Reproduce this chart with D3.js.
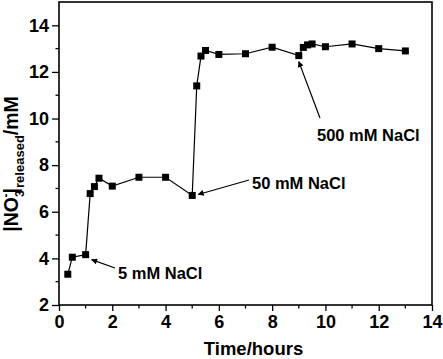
<!DOCTYPE html>
<html>
<head>
<meta charset="utf-8">
<script src="https://cdn.jsdelivr.net/npm/d3@7"></script>
<style>
  body { margin: 0; background: #fff; }
  svg { display: block; font-family: "Liberation Sans", Arial, sans-serif; }
</style>
</head>
<body>
<svg></svg>
<script>
// dados
const timeHours = [0.33, 0.5, 1.0, 1.17, 1.33, 1.5, 2.0, 3.0, 4.0, 5.0, 5.17, 5.33, 5.5, 6.0, 7.0, 8.0, 9.0, 9.17, 9.33, 9.5, 10.0, 11.0, 12.0, 13.0];
const nitrate = [3.32, 4.05, 4.16, 6.78, 7.08, 7.44, 7.1, 7.48, 7.48, 6.7, 11.4, 12.68, 12.92, 12.75, 12.78, 13.06, 12.7, 13.05, 13.16, 13.2, 13.08, 13.2, 13.0, 12.9];
const xTicks = [0, 2, 4, 6, 8, 10, 12, 14];
const yTicks = [2, 4, 6, 8, 10, 12, 14];
const notes = [
  { text: "5 mM NaCl", t: 1.0, v: 4.16 },
  { text: "50 mM NaCl", t: 5.0, v: 6.7 },
  { text: "500 mM NaCl", t: 9.0, v: 12.7 }
];

const width = 443, height = 359;
const margin = { top: 2, right: 11, bottom: 54, left: 59 };

const svg = d3.select("svg").attr("width", width).attr("height", height);

const x = d3.scaleLinear().domain([0, 14]).range([margin.left, width - margin.right]);
const y = d3.scaleLinear().domain([2, 15]).range([height - margin.bottom, margin.top]);

// ponta das setas
svg.append("defs").append("marker")
  .attr("id", "arrow")
  .attr("viewBox", "0 0 10 10")
  .attr("refX", 9).attr("refY", 5)
  .attr("markerWidth", 8).attr("markerHeight", 6)
  .attr("markerUnits", "userSpaceOnUse")
  .attr("orient", "auto")
  .append("path").attr("d", "M0,0 L10,5 L0,10 Z").attr("fill", "#000");

// eixos
const xAxis = d3.axisBottom(x).tickValues(xTicks).tickSize(6).tickPadding(4).tickFormat(d3.format("d"));
const yAxis = d3.axisLeft(y).tickValues(yTicks).tickSize(7).tickPadding(3).tickFormat(d3.format("d"));

const gx = svg.append("g").attr("transform", `translate(0,${y(2)})`).call(xAxis);
const gy = svg.append("g").attr("transform", `translate(${x(0)},0)`).call(yAxis);

[gx, gy].forEach(g => {
  g.select(".domain").remove();
  g.selectAll("line").attr("stroke", "#000").attr("stroke-width", 1.3);
  g.selectAll("text").attr("font-size", 18).attr("font-weight", "bold").attr("fill", "#000");
});

// ticks menores
svg.append("g").selectAll("line")
  .data(d3.range(1, 14, 2))
  .join("line")
  .attr("x1", d => x(d)).attr("x2", d => x(d))
  .attr("y1", y(2)).attr("y2", y(2) + 3.5)
  .attr("stroke", "#000").attr("stroke-width", 1.3);

svg.append("g").selectAll("line")
  .data(d3.range(3, 15, 2))
  .join("line")
  .attr("x1", x(0)).attr("x2", x(0) - 3.5)
  .attr("y1", d => y(d)).attr("y2", d => y(d))
  .attr("stroke", "#000").attr("stroke-width", 1.3);

// moldura
svg.append("rect")
  .attr("x", x(0)).attr("y", y(15))
  .attr("width", x(14) - x(0)).attr("height", y(2) - y(15))
  .attr("fill", "none").attr("stroke", "#000").attr("stroke-width", 1.6);

// linha e pontos
const data = timeHours.map((t, i) => ({ t, v: nitrate[i] }));

svg.append("path")
  .datum(data)
  .attr("fill", "none")
  .attr("stroke", "#000")
  .attr("stroke-width", 1.2)
  .attr("d", d3.line().x(d => x(d.t)).y(d => y(d.v)));

svg.append("g").selectAll("rect")
  .data(data)
  .join("rect")
  .attr("x", d => x(d.t) - 3.5).attr("y", d => y(d.v) - 3.5)
  .attr("width", 7).attr("height", 7)
  .attr("fill", "#000");

// anotações
const noteLayout = [
  { tx: 118, ty: 279, ax: 115, ay: 268, dx: 6, dy: 5 },
  { tx: 252, ty: 189, ax: 249, ay: 180, dx: 6, dy: -1 },
  { tx: 317, ty: 141, ax: 320, ay: 118, dx: 0, dy: 6 }
];

notes.forEach((n, i) => {
  const L = noteLayout[i];
  svg.append("line")
    .attr("x1", L.ax).attr("y1", L.ay)
    .attr("x2", x(n.t) + L.dx).attr("y2", y(n.v) + L.dy)
    .attr("stroke", "#000").attr("stroke-width", 1.2)
    .attr("marker-end", "url(#arrow)");
  svg.append("text")
    .attr("x", L.tx).attr("y", L.ty)
    .attr("font-size", 16.5).attr("font-weight", "bold")
    .text(n.text);
});

// títulos dos eixos
svg.append("text")
  .attr("x", (x(0) + x(14)) / 2 + 8).attr("y", 355)
  .attr("text-anchor", "middle")
  .attr("font-size", 18.5).attr("font-weight", "bold")
  .text("Time/hours");

const yt = svg.append("text")
  .attr("transform", `translate(18,${164}) rotate(-90)`)
  .attr("text-anchor", "middle")
  .attr("font-size", 19.5).attr("font-weight", "bold");
yt.append("tspan").text("|NO");
yt.append("tspan").attr("font-size", 12).attr("dy", 6).text("3");
yt.append("tspan").attr("font-size", 12).attr("dy", -14).attr("dx", -7).text("-");
yt.append("tspan").attr("dy", 8).text("|");
yt.append("tspan").attr("font-size", 13).attr("dy", 6).text("released");
yt.append("tspan").attr("dy", -6).text("/mM");
</script>
</body>
</html>
